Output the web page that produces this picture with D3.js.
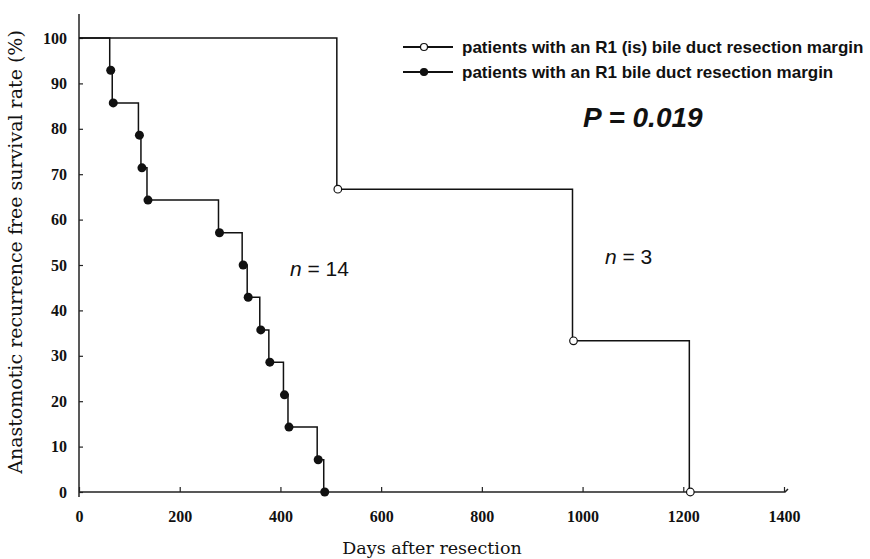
<!DOCTYPE html>
<html>
<head>
<meta charset="utf-8">
<script src="https://cdn.jsdelivr.net/npm/d3@7"></script>
<style>
  body { margin: 0; background: #fff; }
  svg { display: block; }
  .tick text { font-family: "Liberation Serif", serif; font-weight: bold; font-size: 16px; fill: #111; }
  .tick line { stroke: #222; stroke-width: 1.2; }
</style>
</head>
<body>
<script>
// values
var xTicks = [0, 200, 400, 600, 800, 1000, 1200, 1400];
var yTicks = [0, 10, 20, 30, 40, 50, 60, 70, 80, 90, 100];

// R1 (is) margin, open circles, n = 3
var isDays = [512, 980, 1212];
var isSurv = [66.7, 33.3, 0];

// R1 margin, filled circles, n = 14
var r1Days = [61, 66, 118, 123, 135, 277, 324, 334, 359, 377, 406, 415, 473, 486];
var r1Surv = [92.9, 85.7, 78.6, 71.4, 64.3, 57.1, 50.0, 42.9, 35.7, 28.6, 21.4, 14.3, 7.1, 0];

var legendLabels = ["patients with an R1 (is) bile duct resection margin",
                    "patients with an R1 bile duct resection margin"];

var W = 870, H = 559;
var svg = d3.select("body").append("svg")
    .attr("width", W)
    .attr("height", H);

var x = d3.scaleLinear().domain([0, 1400]).range([79, 784]);
var y = d3.scaleLinear().domain([0, 100]).range([492, 38]);

// axes
svg.append("g")
    .attr("transform", "translate(0,492)")
    .call(d3.axisBottom(x).tickValues(xTicks).tickFormat(d3.format("d"))
        .tickSize(-5).tickSizeOuter(0).tickPadding(19))
    .call(function(g) { g.select(".domain").remove(); });

svg.append("g")
    .attr("transform", "translate(79,0)")
    .call(d3.axisLeft(y).tickValues(yTicks).tickFormat(d3.format("d"))
        .tickSize(-4).tickSizeOuter(0).tickPadding(12))
    .call(function(g) { g.select(".domain").remove(); });

svg.append("line")
    .attr("x1", 79).attr("x2", 79).attr("y1", 14).attr("y2", 497)
    .style("stroke", "#222").style("stroke-width", 1.5);
svg.append("path")
    .attr("d", "M79," + y(0) + "H785l3,-3")
    .style("fill", "none").style("stroke", "#222").style("stroke-width", 1.5);

// survival steps
var step = d3.line()
    .x(function(d) { return x(d[0]); })
    .y(function(d) { return y(d[1]); })
    .curve(d3.curveStepAfter);

var isPts = [[0, 100]].concat(isDays.map(function(d, i) { return [d, isSurv[i]]; }));
var r1Pts = [[0, 100]].concat(r1Days.map(function(d, i) { return [d, r1Surv[i]]; }));

svg.append("path")
    .datum(isPts)
    .attr("d", step)
    .style("fill", "none").style("stroke", "#111").style("stroke-width", 1.5);

svg.append("path")
    .datum(r1Pts)
    .attr("d", step)
    .style("fill", "none").style("stroke", "#111").style("stroke-width", 1.5);

svg.selectAll("circle.r1")
    .data(r1Pts.slice(1))
  .enter().append("circle")
    .attr("class", "r1")
    .attr("cx", function(d) { return x(d[0]) + 1; })
    .attr("cy", function(d) { return y(d[1]); })
    .attr("r", 4.5)
    .style("fill", "#111");

svg.selectAll("circle.is")
    .data(isPts.slice(1))
  .enter().append("circle")
    .attr("class", "is")
    .attr("cx", function(d) { return x(d[0]) + 1; })
    .attr("cy", function(d) { return y(d[1]); })
    .attr("r", 3.8)
    .style("fill", "#fff")
    .style("stroke", "#111")
    .style("stroke-width", 1.2);

// legend
var leg = svg.append("g");
legendLabels.forEach(function(lbl, i) {
    var ly = 47 + i * 25;
    leg.append("line")
        .attr("x1", 403).attr("x2", 453).attr("y1", ly).attr("y2", ly)
        .style("stroke", "#111").style("stroke-width", 2);
    leg.append("circle")
        .attr("cx", 424).attr("cy", ly)
        .attr("r", 3.5)
        .style("fill", i == 0 ? "#fff" : "#111")
        .style("stroke", "#111").style("stroke-width", 1.2);
    leg.append("text")
        .attr("x", 462).attr("y", ly + 6)
        .style("font-family", "'Liberation Sans', Arial, sans-serif")
        .style("font-weight", "bold")
        .style("font-size", "17px")
        .style("fill", "#111")
        .text(lbl);
});

// annotations
svg.append("text")
    .attr("x", 583).attr("y", 127)
    .style("font-family", "'Liberation Sans', Arial, sans-serif")
    .style("font-weight", "bold").style("font-style", "italic")
    .style("font-size", "28px").style("fill", "#111")
    .text("P = 0.019");

var nLab = function(tx, ty, num) {
    var t = svg.append("text")
        .attr("x", tx).attr("y", ty)
        .style("font-family", "'Liberation Sans', Arial, sans-serif")
        .style("font-size", "21px").style("fill", "#111");
    t.append("tspan").style("font-style", "italic").text("n");
    t.append("tspan").text(" = " + num);
};
nLab(290, 276, 14);
nLab(605, 264, 3);

// axis titles
svg.append("text")
    .attr("x", 432).attr("y", 554)
    .attr("text-anchor", "middle")
    .style("font-family", "'DejaVu Serif', serif")
    .style("font-size", "17.5px").style("fill", "#111")
    .text("Days after resection");

svg.append("text")
    .attr("transform", "translate(22,252) rotate(-90)")
    .attr("text-anchor", "middle")
    .style("font-family", "'DejaVu Serif', serif")
    .style("font-size", "19px").style("fill", "#111")
    .text("Anastomotic recurrence free survival rate (%)");
</script>
</body>
</html>
